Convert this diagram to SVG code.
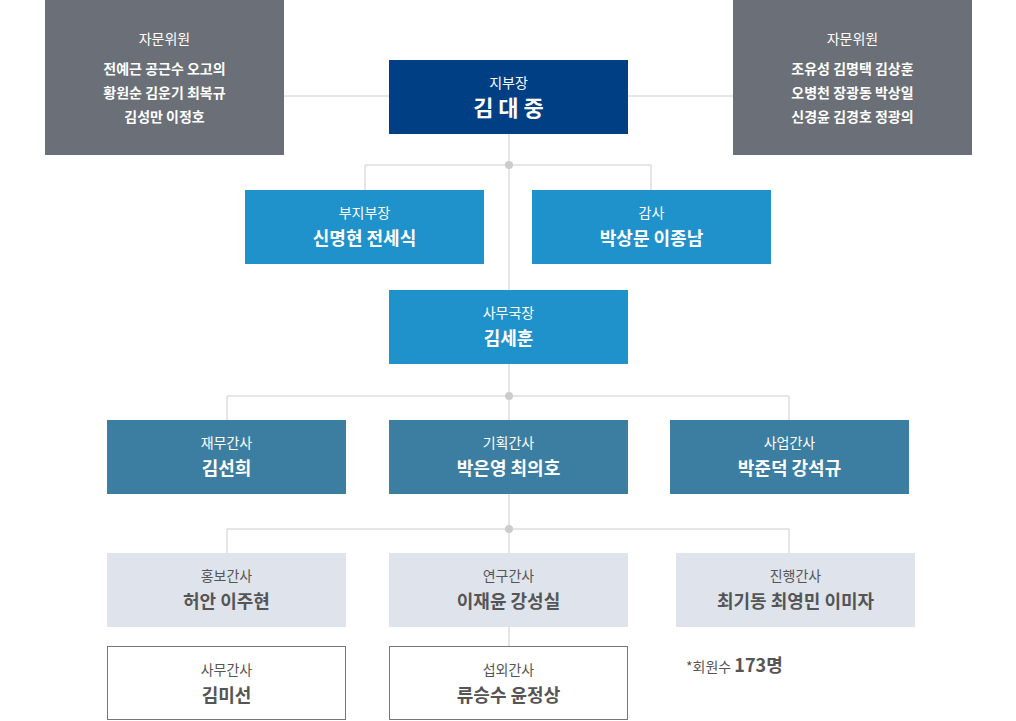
<svg xmlns="http://www.w3.org/2000/svg" width="1016" height="721" viewBox="0 0 1016 721">
<style>
text{font-family:"Noto Sans CJK KR","Noto Sans",sans-serif;text-anchor:middle}
.t{font-size:14px}.n{font-size:18px;font-weight:bold}
.w{fill:#fff}.g{fill:#555}
.ln{stroke:#ccc;stroke-width:1;fill:none}
</style>
<g id="connectors">
<path class="ln" d="M284 96H389M628 96H733M509 134V290M365 190V165H651V190M509 364V420M227 420V396H789V420M509 494V553M227 553V529H789V553M509 627V646"/>
<circle cx="509" cy="165" r="4" fill="#ccc"/><circle cx="509" cy="396" r="4" fill="#ccc"/><circle cx="509" cy="529" r="4" fill="#ccc"/>
</g>
<g id="adv-left"><rect x="45" y="0" width="239" height="155" fill="#6b6f77"/>
<text x="164.500" y="44" class="t w">자문위원</text>
<text x="164.500" y="74" class="t w" font-weight="bold" font-size="16">전예근 공근수 오고의</text>
<text x="164.500" y="98" class="t w" font-weight="bold" font-size="16">황원순 김운기 최복규</text>
<text x="164.500" y="122" class="t w" font-weight="bold" font-size="16">김성만 이정호</text></g>
<g id="adv-right"><rect x="733" y="0" width="239" height="155" fill="#6b6f77"/>
<text x="852.500" y="44" class="t w">자문위원</text>
<text x="852.500" y="74" class="t w" font-weight="bold" font-size="16">조유성 김명택 김상훈</text>
<text x="852.500" y="98" class="t w" font-weight="bold" font-size="16">오병천 장광동 박상일</text>
<text x="852.500" y="122" class="t w" font-weight="bold" font-size="16">신경윤 김경호 정광의</text></g>
<g id="chief"><rect x="389" y="60" width="239" height="74" fill="#003f83"/>
<text x="508.500" y="88" class="t w">지부장</text><text x="508.500" y="116" class="w" font-size="22" font-weight="bold">김 대 중</text></g>
<g id="vice"><rect x="245" y="190" width="239" height="74" fill="#1f91cb"/>
<text x="364.500" y="218" class="t w">부지부장</text><text x="364.500" y="245" class="n w">신명현 전세식</text></g>
<g id="audit"><rect x="532" y="190" width="239" height="74" fill="#1f91cb"/>
<text x="651.500" y="218" class="t w">감사</text><text x="651.500" y="245" class="n w">박상문 이종남</text></g>
<g id="sec"><rect x="389" y="290" width="239" height="74" fill="#1f91cb"/>
<text x="508.500" y="318" class="t w">사무국장</text><text x="508.500" y="345" class="n w">김세훈</text></g>
<g id="fin"><rect x="107" y="420" width="239" height="74" fill="#3c7ea1"/>
<text x="226.500" y="448" class="t w">재무간사</text><text x="226.500" y="475" class="n w">김선희</text></g>
<g id="plan"><rect x="389" y="420" width="239" height="74" fill="#3c7ea1"/>
<text x="508.500" y="448" class="t w">기획간사</text><text x="508.500" y="475" class="n w">박은영 최의호</text></g>
<g id="biz"><rect x="670" y="420" width="239" height="74" fill="#3c7ea1"/>
<text x="789.500" y="448" class="t w">사업간사</text><text x="789.500" y="475" class="n w">박준덕 강석규</text></g>
<g id="pr"><rect x="107" y="553" width="239" height="74" fill="#dfe4ec"/>
<text x="226.500" y="581" class="t g">홍보간사</text><text x="226.500" y="608" class="n g">허안 이주현</text></g>
<g id="res"><rect x="389" y="553" width="239" height="74" fill="#dfe4ec"/>
<text x="508.500" y="581" class="t g">연구간사</text><text x="508.500" y="608" class="n g">이재윤 강성실</text></g>
<g id="prog"><rect x="676" y="553" width="239" height="74" fill="#dfe4ec"/>
<text x="795.500" y="581" class="t g">진행간사</text><text x="795.500" y="608" class="n g">최기동 최영민 이미자</text></g>
<g id="office"><rect x="107.500" y="646.500" width="238" height="73" fill="#fff" stroke="#777"/>
<text x="226.500" y="675" class="t g">사무간사</text><text x="226.500" y="702" class="n g">김미선</text></g>
<g id="ext"><rect x="389.500" y="646.500" width="238" height="73" fill="#fff" stroke="#777"/>
<text x="508.500" y="675" class="t g">섭외간사</text><text x="508.500" y="702" class="n g">류승수 윤정상</text></g>
<text x="686" y="672" class="g" style="text-anchor:start" font-size="14">*회원수 <tspan font-size="18" font-weight="bold">173명</tspan></text>
</svg>
